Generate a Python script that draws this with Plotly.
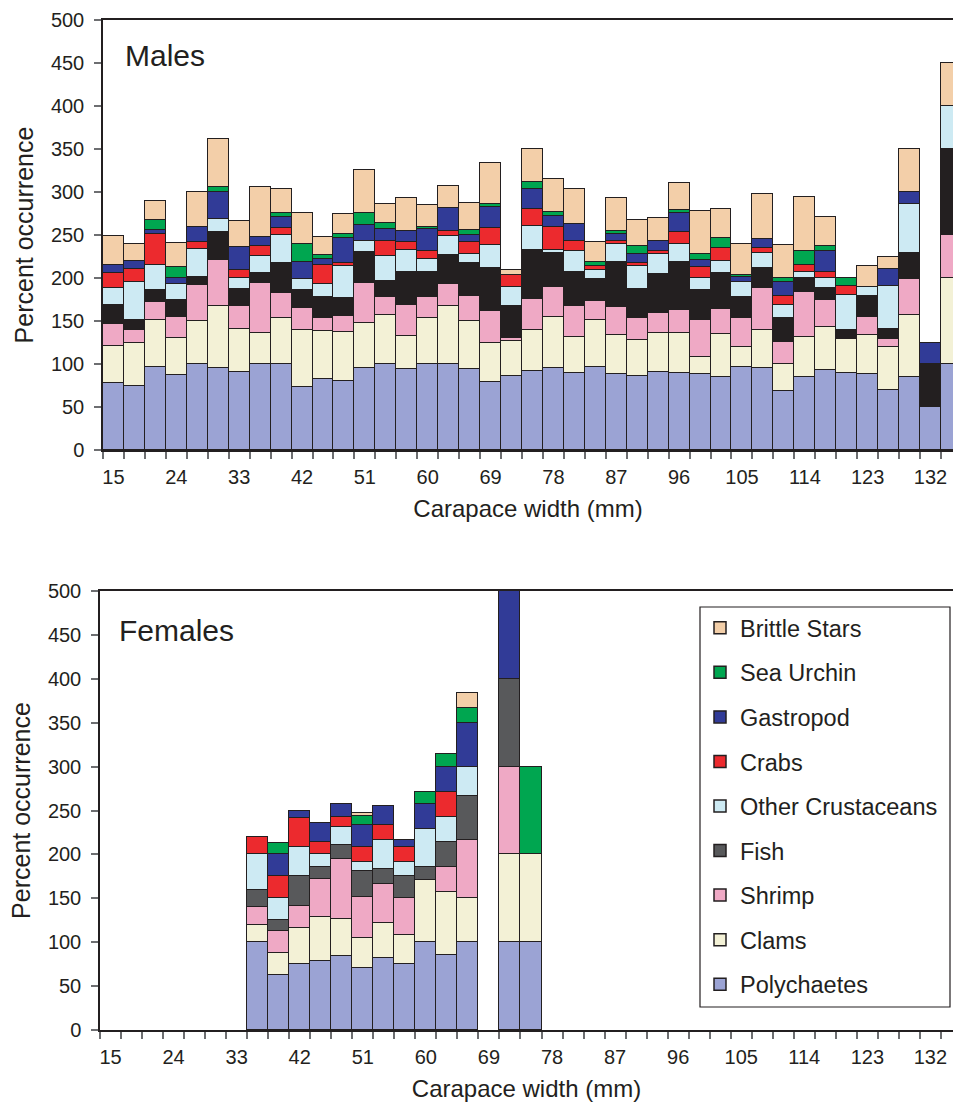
import plotly.graph_objects as go

# ---------------- data ----------------
carapace_width = [15, 18, 21, 24, 27, 30, 33, 36, 39, 42, 45, 48, 51, 54, 57, 60, 63, 66, 69, 72,
                  75, 78, 81, 84, 87, 90, 93, 96, 99, 102, 105, 108, 111, 114, 117, 120, 123, 126,
                  129, 132, 135]
tick_positions = [15, 24, 33, 42, 51, 60, 69, 78, 87, 96, 105, 114, 123, 132]
tick_labels = ["15", "24", "33", "42", "51", "60", "69", "78", "87", "96", "105", "114", "123", "132"]

# Males (percent occurrence per prey group, stacked bottom -> top)
polychaetes_m = [78, 75, 96, 87, 100, 95, 91, 100, 100, 73, 82, 80, 95, 100, 94, 100, 100, 94, 79, 86,
                 92, 95, 90, 97, 88, 86, 91, 89, 88, 85, 97, 95, 69, 85, 93, 90, 88, 69.5, 85, 50, 100]
clams_m = [42.5, 49.5, 55, 43.5, 50, 73, 50, 36.5, 54, 66.5, 56, 57, 52.5, 56.5, 39, 53.5, 67.5, 55.5, 45, 41,
           48, 59.5, 41, 54.5, 45.5, 41.5, 45, 47, 20, 49.5, 22.5, 44, 31, 46, 50.5, 39.5, 46, 50.5, 72, 0, 100]
shrimp_m = [26, 15, 21.5, 24.5, 41.5, 52.5, 26.5, 58, 28.5, 26, 16, 19, 47, 21, 36, 24, 25, 30, 37.5, 3,
            35.5, 35.5, 37, 22, 32.5, 26, 23, 27, 43.5, 29, 33.5, 49, 25.5, 53, 30.5, 0, 20.5, 9.5, 42, 0, 50]
fish_m = [22.5, 11.5, 13, 20, 9.5, 32.5, 20, 11.5, 34.5, 21, 24, 20.5, 35.5, 18.5, 38, 30, 34.5, 38, 50, 38,
          57, 39.5, 39.5, 25, 53, 34, 45.5, 55.5, 34, 42, 24.5, 24, 28, 16, 14.5, 10.5, 24, 11, 30.5, 50, 100]
other_crust_m = [19.5, 44, 29.5, 18.5, 33, 15.5, 12, 20, 33, 12.5, 15.5, 37, 13, 30, 26, 14.5, 21.5, 10, 26.5, 22,
                 27.5, 2.5, 23.5, 10.5, 21, 26, 23, 20.5, 14, 14, 18, 16.5, 15, 7.5, 11.5, 40.5, 11, 50, 56, 0, 50]
crabs_m = [17, 15, 36, 0, 8, 0, 9.5, 11.5, 8, 0, 22, 4.5, 0, 17.5, 9, 9, 6.5, 14, 20.5, 14,
           20, 27.5, 12.5, 5, 3, 4, 4, 14.5, 13, 15, 0, 6, 11, 8, 7, 10, 0, 0, 0, 0, 0]
gastropod_m = [10, 9.5, 4.5, 6, 17.5, 32, 27.5, 10.5, 13, 20, 6.5, 29, 18.5, 13, 12.5, 25.5, 26, 8.5, 24, 0,
               24, 13, 19, 0, 8, 10, 12, 22, 8, 0, 6, 11, 16, 0, 24.5, 0, 0, 20, 15, 25, 0]
sea_urchin_m = [0, 0, 11.5, 13, 0, 5, 0, 0, 4.5, 20.5, 5, 4.5, 14, 8, 0, 3, 0, 5.5, 3, 0,
                8, 4, 0, 4.5, 4, 9.5, 0, 3, 7, 11.5, 2.5, 0, 4, 15.5, 6, 9.5, 0, 0, 0, 0, 0]
brittle_stars_m = [33, 20.5, 23, 28, 41, 56, 30, 57.5, 28.5, 36.5, 20.5, 23.5, 50.5, 22, 38.5, 25, 25.5, 32, 48, 5,
                   38.5, 39, 41, 23.5, 38, 31, 26.5, 32.5, 50, 34.5, 35, 52, 38.5, 63.5, 33.5, 0, 24, 13.5, 49, 0, 50]

# Females
carapace_width_f = [36, 39, 42, 45, 48, 51, 54, 57, 60, 63, 66, 72, 75]
polychaetes_f = [100, 62.5, 75, 78.6, 84.6, 71, 82.4, 75, 100, 85.7, 100, 100, 100]
clams_f = [20, 25, 41.7, 50, 41.4, 34.2, 39.1, 33.3, 71.4, 71.4, 50, 100, 100]
shrimp_f = [20, 25, 25, 42.9, 68.3, 46.7, 44.8, 41.7, 0, 28.6, 66.7, 100, 0]
fish_f = [20, 12.5, 33.3, 14.3, 16.3, 29.6, 17.1, 25, 14.3, 28.6, 50, 100, 0]
other_crust_f = [40, 25, 33.3, 14.3, 20.9, 9.5, 33, 16.7, 42.9, 28.6, 33.3, 0, 0]
crabs_f = [20, 25, 33.3, 14.3, 10.6, 17.8, 17.1, 16.7, 0, 28.6, 0, 0, 0]
gastropod_f = [0, 25, 8.3, 21.4, 15.2, 24.7, 22, 8.3, 28.6, 28.6, 50, 100, 0]
sea_urchin_f = [0, 12.5, 0, 0, 0, 10.2, 0, 0, 14.3, 14.3, 16.7, 0, 100]
brittle_stars_f = [0, 0, 0, 0, 0, 3.8, 0, 0, 0, 0, 16.7, 0, 0]

series_names = ["Polychaetes", "Clams", "Shrimp", "Fish", "Other Crustaceans",
                "Crabs", "Gastropod", "Sea Urchin", "Brittle Stars"]
colors_m = ["#9BA3D4", "#F3F1D6", "#EFA9C5", "#231F20", "#CDEAF3",
            "#EC2A2E", "#313B97", "#00A650", "#F3CFA9"]
colors_f = ["#9BA3D4", "#F3F1D6", "#EFA9C5", "#58595B", "#CDEAF3",
            "#EC2A2E", "#313B97", "#00A650", "#F3CFA9"]

males = [polychaetes_m, clams_m, shrimp_m, fish_m, other_crust_m,
         crabs_m, gastropod_m, sea_urchin_m, brittle_stars_m]
females = [polychaetes_f, clams_f, shrimp_f, fish_f, other_crust_f,
           crabs_f, gastropod_f, sea_urchin_f, brittle_stars_f]

# ---------------- styling ----------------
INK = "#231F20"
TICK = "#6D6E71"
FONT = "Liberation Sans, Arial, Helvetica, sans-serif"
W, H = 953, 1108
MT, MB = 20, 78
PH = H - MT - MB


def py(pix):
    """pixel row -> paper y"""
    return (H - MB - pix) / PH


fig = go.Figure()

n = len(series_names)
for i, (name, vals, col) in enumerate(zip(series_names, males, colors_m)):
    fig.add_trace(go.Bar(
        x=carapace_width, y=[v if v else None for v in vals], name=name,
        marker=dict(color=col, line=dict(color=INK, width=1.5)),
        xaxis="x", yaxis="y", showlegend=False, legendgroup=name, legendrank=100 + n - i))

for i, (name, vals, col) in enumerate(zip(series_names, females, colors_f)):
    fig.add_trace(go.Bar(
        x=carapace_width_f, y=[v if v else None for v in vals], name=name,
        marker=dict(color=col, line=dict(color=INK, width=1.5)),
        xaxis="x2", yaxis="y2", showlegend=True, legendgroup=name, legendrank=100 + n - i))


def xaxis_style(left_px, anchor):
    return dict(
        domain=[left_px / W, 1], anchor=anchor, range=[13.5, 135.22],
        tickmode="array", tickvals=tick_positions, ticktext=tick_labels,
        ticks="", ticklabelstandoff=8,
        minor=dict(ticks="outside", tickmode="linear", tick0=13.5, dtick=3,
                   ticklen=7, tickwidth=1.5, tickcolor=TICK, showgrid=False),
        showline=True, linecolor=INK, linewidth=1.5, mirror=True,
        showgrid=False, zeroline=False,
        tickfont=dict(size=20, color=INK, family=FONT),
        title=dict(text="Carapace width (mm)", font=dict(size=24, color=INK, family=FONT), standoff=13),
        automargin=False)


def yaxis_style(dom, anchor):
    return dict(
        domain=dom, anchor=anchor, range=[0, 500], tickmode="linear", tick0=0, dtick=50,
        ticks="outside", ticklen=7, tickwidth=1.5, tickcolor=TICK, ticklabelstandoff=6,
        showline=True, linecolor=INK, linewidth=1.5, showgrid=False, zeroline=False,
        tickfont=dict(size=20, color=INK, family=FONT),
        title=dict(text="Percent occurrence", font=dict(size=25, color=INK, family=FONT), standoff=10),
        automargin=False)


fig.update_layout(
    width=W, height=H,
    margin=dict(l=0, r=0, t=MT, b=MB),
    barmode="stack", bargap=0,
    plot_bgcolor="white", paper_bgcolor="white",
    font=dict(family=FONT, color=INK),
    xaxis=xaxis_style(103, "y"),
    yaxis=yaxis_style([py(450), 1], "x"),
    xaxis2=xaxis_style(100, "y2"),
    yaxis2=yaxis_style([0, py(591)], "x2"),
    legend=dict(
        x=700 / W, y=py(606), xanchor="left", yanchor="top",
        bgcolor="rgba(0,0,0,0)", borderwidth=0,
        font=dict(size=23.5, color=INK, family=FONT),
        traceorder="grouped", tracegroupgap=11,
    ),
    shapes=[dict(type="rect", xref="paper", yref="paper",
                 x0=700 / W, x1=950 / W, y0=py(1007), y1=py(607),
                 line=dict(color=INK, width=1.2), fillcolor="rgba(0,0,0,0)", layer="above")],
    annotations=[
        dict(text="Males", xref="x domain", yref="y domain", x=0.024, y=(450 - 55) / 430,
             xanchor="left", yanchor="middle", showarrow=False,
             font=dict(size=30, color=INK, family=FONT)),
        dict(text="Females", xref="x2 domain", yref="y2 domain", x=0.02, y=(1030 - 630) / 439,
             xanchor="left", yanchor="middle", showarrow=False,
             font=dict(size=30, color=INK, family=FONT)),
    ],
)

fig.write_html("out.html", config={"displayModeBar": False},
               post_script="document.body.style.margin='0';")
